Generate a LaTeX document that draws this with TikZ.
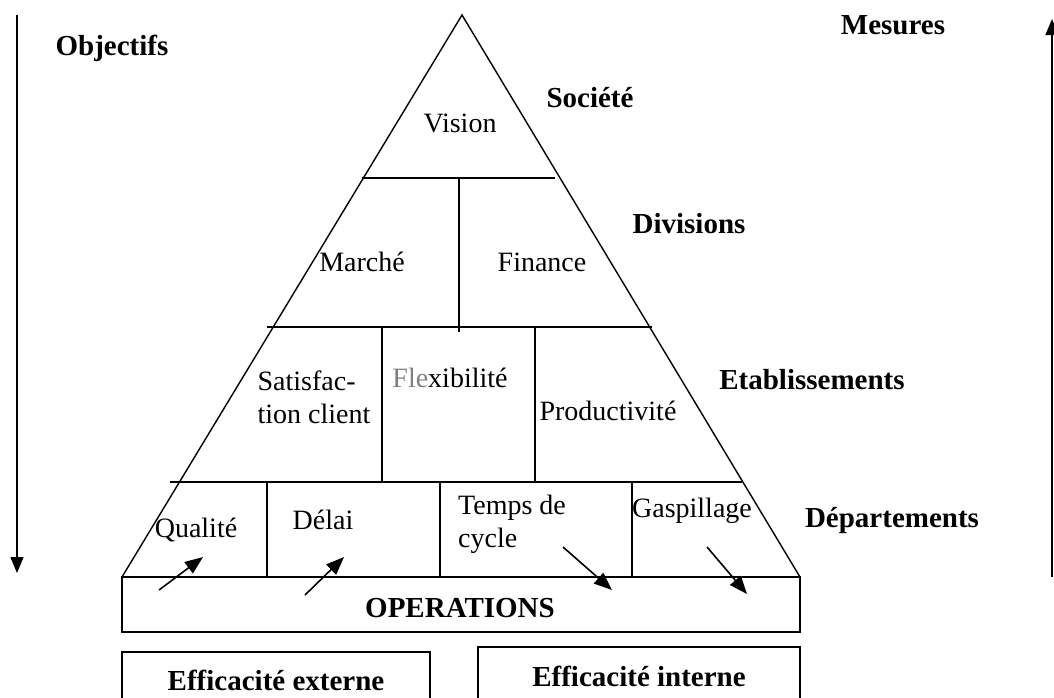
\documentclass[tikz,border=0pt]{standalone}
\usepackage{fontspec}
\setmainfont{Liberation Serif}
\usepackage{xcolor}
\usetikzlibrary{arrows.meta}
\tikzset{
Niveau/.style={
 font=\bfseries\fontsize{14.5}{17}\selectfont,
 inner sep=0pt
 },
Case/.style={
 font=\fontsize{14}{16.5}\selectfont,
 inner sep=0pt,
 align=left
 },
Trait/.style={
 draw=black,
 line width=0.7pt
 },
Base/.style={
 draw=black,
 line width=1.4pt
 },
Fleche/.style={
 draw=black,
 line width=0.8pt,
 -{Triangle[length=9pt,width=7pt]}
 },
GFleche/.style={
 draw=black,
 line width=0.7pt,
 -{Triangle[length=8pt,width=6.5pt]}
 }
}

\begin{document}
\begin{tikzpicture}[x=0.5pt,y=-0.5pt]
\useasboundingbox (0,0) rectangle (1054,697);
% pyramide
\coordinate (sommet) at (462,15);
\coordinate (gauche) at (122,577);
\coordinate (droite) at (800,577);
\draw[Trait] (sommet) -- (gauche) -- (droite) -- cycle;
\draw[Trait] (362,178) -- (555,178);
\draw[Trait] (267,327) -- (652,327);
\draw[Trait] (170,482) -- (742,482);
\draw[Trait] (459,178) -- (459,332);
\draw[Trait] (382,327) -- (382,482);
\draw[Trait] (535,327) -- (535,482);
\draw[Trait] (267,482) -- (267,577);
\draw[Trait] (440,482) -- (440,577);
\draw[Trait] (632,482) -- (632,577);
% cases
\node[Case] (vision) at (460,123) {Vision};
\node[Case] (marche) at (362,262) {Marché};
\node[Case] (finance) at (542,262) {Finance};
\node[Case] (satisfaction) at (314,397) {Satisfac-\\tion client};
\node[Case] (flexibilite) at (450,378) {{\color{gray}Fle}xibilité};
\node[Case] (productivite) at (608,411) {Productivité};
\node[Case] (qualite) at (196,530) {Qualité};
\node[Case] (delai) at (323,520) {Délai};
\node[Case] (temps) at (512,524) {Temps de\\cycle};
\node[Case] (gaspillage) at (692,511) {Gaspillage};
% niveaux
\node[Niveau] (objectifs) at (112,48) {Objectifs};
\node[Niveau] (mesures) at (893,25) {Mesures};
\node[Niveau] (societe) at (590,98) {Société};
\node[Niveau] (divisions) at (689,224) {Divisions};
\node[Niveau] (etablissements) at (812,380) {Etablissements};
\node[Niveau] (departements) at (892,521) {Départements};
% operations et efficacite
\draw[Trait] (gauche) rectangle (800,632);
\draw[Base] (gauche) -- (droite);
\node[Niveau] (operations) at (460,608) {OPERATIONS};
\draw[Trait] (122,652) rectangle (430,710);
\draw[Trait] (478,647) rectangle (800,710);
\node[Niveau] (externe) at (276,680) {Efficacité externe};
\node[Niveau] (interne) at (639,676) {Efficacité interne};
% fleches
\coordinate (obj1) at (17,15);
\coordinate (obj2) at (17,573);
\coordinate (mes1) at (1052,577);
\coordinate (mes2) at (1052,19);
\draw[GFleche] (obj1) -- (obj2);
\draw[GFleche] (mes1) -- (mes2);
\coordinate (q1) at (159,590);
\coordinate (q2) at (203,557);
\coordinate (d1) at (305,595);
\coordinate (d2) at (344,557);
\coordinate (t1) at (563,547);
\coordinate (t2) at (612,590);
\coordinate (g1) at (707,547);
\coordinate (g2) at (747,594);
\draw[Fleche] (q1) -- (q2);
\draw[Fleche] (d1) -- (d2);
\draw[Fleche] (t1) -- (t2);
\draw[Fleche] (g1) -- (g2);
\end{tikzpicture}
\end{document}
